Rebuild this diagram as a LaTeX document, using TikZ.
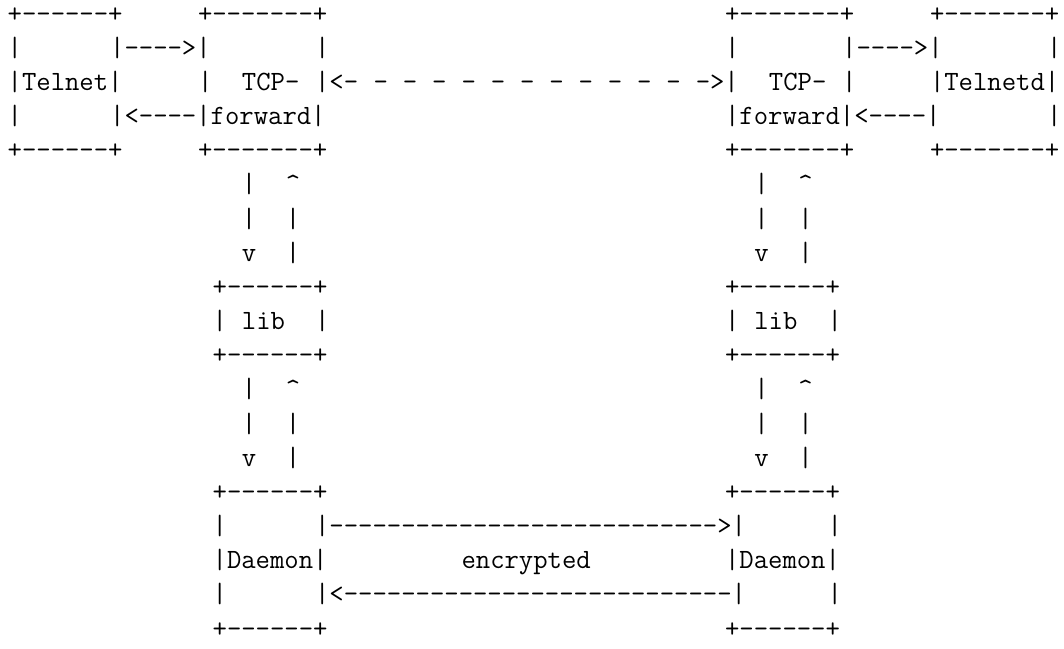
\documentclass[tikz,border=0pt]{standalone}
\tikzset{
  tok/.style={anchor=base west, inner sep=0pt, outer sep=0pt,
    font=\ttfamily\fontsize{27.89}{34.17}\selectfont},
}
\newcommand\cpos[2]{({7.68+14.64*(#1)},{22+34.17*((#2)-1)})}
\begin{document}
\begin{tikzpicture}[x=1pt,y=-1pt]
\useasboundingbox[fill=white] (0,0) rectangle (1064,648);
% row 1 and 5: top boxes
\foreach \r in {1,5}{
  \node[tok] (tla\r) at \cpos{0}{\r} {+------+};
  \node[tok] (tlb\r) at \cpos{13}{\r} {+-------+};
  \node[tok] (trb\r) at \cpos{49}{\r} {+-------+};
  \node[tok] (tra\r) at \cpos{63}{\r} {+-------+};
}
% row 2
\node[tok] (r2a) at \cpos{0}{2} {|};
\node[tok] (r2b) at \cpos{7}{2} {|---->|};
\node[tok] (r2c) at \cpos{21}{2} {|};
\node[tok] (r2d) at \cpos{49}{2} {|};
\node[tok] (r2e) at \cpos{57}{2} {|---->|};
\node[tok] (r2f) at \cpos{71}{2} {|};
% row 3
\node[tok] (telnet) at \cpos{0}{3} {|Telnet|};
\node[tok] (r3a) at \cpos{13}{3} {|};
\node[tok] (tcpl) at \cpos{16}{3} {TCP-};
\node[tok] (r3b) at \cpos{21}{3} {|<-};
\foreach \c in {25,27,...,45}{
  \node[tok] (dash\c) at \cpos{\c}{3} {-};
}
\node[tok] (r3c) at \cpos{47}{3} {->|};
\node[tok] (tcpr) at \cpos{52}{3} {TCP-};
\node[tok] (r3d) at \cpos{57}{3} {|};
\node[tok] (telnetd) at \cpos{63}{3} {|Telnetd|};
% row 4
\node[tok] (r4a) at \cpos{0}{4} {|};
\node[tok] (fwdl) at \cpos{7}{4} {|<----|forward|};
\node[tok] (fwdr) at \cpos{49}{4} {|forward|<----|};
\node[tok] (r4b) at \cpos{71}{4} {|};
% vertical arrows
\foreach \r in {6,12}{
  \node[tok] (va\r) at \cpos{16}{\r} {|};
  \node[tok] (vb\r) at \cpos{19}{\r} {\textasciicircum};
  \node[tok] (vc\r) at \cpos{51}{\r} {|};
  \node[tok] (vd\r) at \cpos{54}{\r} {\textasciicircum};
}
\foreach \r in {7,13}{
  \node[tok] (va\r) at \cpos{16}{\r} {|};
  \node[tok] (vb\r) at \cpos{19}{\r} {|};
  \node[tok] (vc\r) at \cpos{51}{\r} {|};
  \node[tok] (vd\r) at \cpos{54}{\r} {|};
}
\foreach \r in {8,14}{
  \node[tok] (va\r) at \cpos{16}{\r} {v};
  \node[tok] (vb\r) at \cpos{19}{\r} {|};
  \node[tok] (vc\r) at \cpos{51}{\r} {v};
  \node[tok] (vd\r) at \cpos{54}{\r} {|};
}
% lib and daemon box borders
\foreach \r in {9,11,15,19}{
  \node[tok] (bl\r) at \cpos{14}{\r} {+------+};
  \node[tok] (br\r) at \cpos{49}{\r} {+------+};
}
% row 10
\node[tok] (r10a) at \cpos{14}{10} {|};
\node[tok] (libl) at \cpos{16}{10} {lib};
\node[tok] (r10b) at \cpos{21}{10} {|};
\node[tok] (r10c) at \cpos{49}{10} {|};
\node[tok] (libr) at \cpos{51}{10} {lib};
\node[tok] (r10d) at \cpos{56}{10} {|};
% row 16
\node[tok] (r16a) at \cpos{14}{16} {|};
\node[tok] (encf) at \cpos{21}{16} {|--------------------------->|};
\node[tok] (r16b) at \cpos{56}{16} {|};
% row 17
\node[tok] (daemonl) at \cpos{14}{17} {|Daemon|};
\node[tok] (enc) at \cpos{31}{17} {encrypted};
\node[tok] (daemonr) at \cpos{49}{17} {|Daemon|};
% row 18
\node[tok] (r18a) at \cpos{14}{18} {|};
\node[tok] (encb) at \cpos{21}{18} {|<---------------------------|};
\node[tok] (r18b) at \cpos{56}{18} {|};
\end{tikzpicture}
\end{document}
